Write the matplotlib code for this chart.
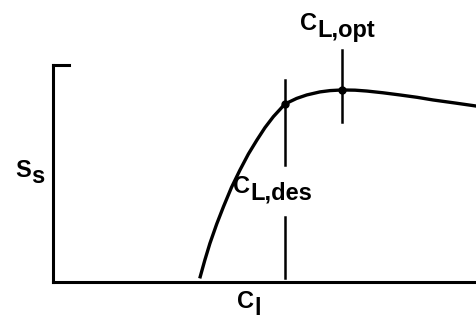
import matplotlib
matplotlib.use("Agg")
import matplotlib.pyplot as plt

# curve (C_l across, S_s up, both scaled 0..1 to the axis frame)
cl = [0.348, 0.359, 0.371, 0.387, 0.403, 0.422, 0.442, 0.462, 0.482, 0.501,
      0.521, 0.537, 0.548, 0.576, 0.600, 0.631, 0.655, 0.683, 0.714, 0.742,
      0.780, 0.820, 0.861, 0.898, 0.950, 1.000]
ss = [0.024, 0.101, 0.178, 0.267, 0.347, 0.436, 0.516, 0.590, 0.654, 0.711,
      0.762, 0.796, 0.820, 0.846, 0.862, 0.876, 0.882, 0.885, 0.884, 0.880,
      0.872, 0.862, 0.851, 0.839, 0.825, 0.811]

# design and optimum points on the curve
cl_des, ss_des = 0.548, 0.820
cl_opt, ss_opt = 0.683, 0.885

FONT = "Liberation Sans"
FS = 17


def label(ax, x, y, main, sub, drop):
    """Draw a main letter with a full-size, lowered subscript after it."""
    t = ax.text(x, y, main, fontsize=FS, family=FONT, fontweight="bold",
                va="baseline", ha="left", clip_on=False)
    ax.annotate(sub, xy=(1, 0), xycoords=t, xytext=(0, -drop),
                textcoords="offset points", fontsize=FS, family=FONT,
                fontweight="bold", va="bottom", ha="left")


fig = plt.figure(figsize=(4.76, 3.21), dpi=100)
ax = fig.add_axes([0.1113, 0.1215, 0.8887, 0.676])
ax.set_xlim(0, 1)
ax.set_ylim(0, 1)

for side in ["top", "right"]:
    ax.spines[side].set_visible(False)
for side in ["left", "bottom"]:
    ax.spines[side].set_linewidth(2.2)
ax.set_xticks([])
ax.set_yticks([])

# little hook at the top of the S_s axis
ax.plot([0, 0.038], [1, 1], color="black", lw=2.2, solid_capstyle="projecting",
        clip_on=False)

ax.plot(cl, ss, color="black", lw=2.4, solid_joinstyle="round", clip_on=False)

# C_L,des marker line (broken for its label)
ax.plot([cl_des, cl_des], [0.931, 0.539], color="black", lw=1.8, clip_on=False)
ax.plot([cl_des, cl_des], [0.300, 0.018], color="black", lw=1.8, clip_on=False)
# C_L,opt marker line
ax.plot([cl_opt, cl_opt], [1.069, 0.737], color="black", lw=1.8, clip_on=False)

ax.plot([cl_des, cl_opt], [ss_des, ss_opt], "o", color="black", ms=5,
        clip_on=False)

label(ax, 0.584, 1.161, "C", "L,opt", 5)
label(ax, 0.426, 0.410, "C", "L,des", 5)
label(ax, -0.090, 0.484, "S", "s", 4)
label(ax, 0.435, -0.120, "C", "l", 5)

fig.savefig("out.png", dpi=100)
